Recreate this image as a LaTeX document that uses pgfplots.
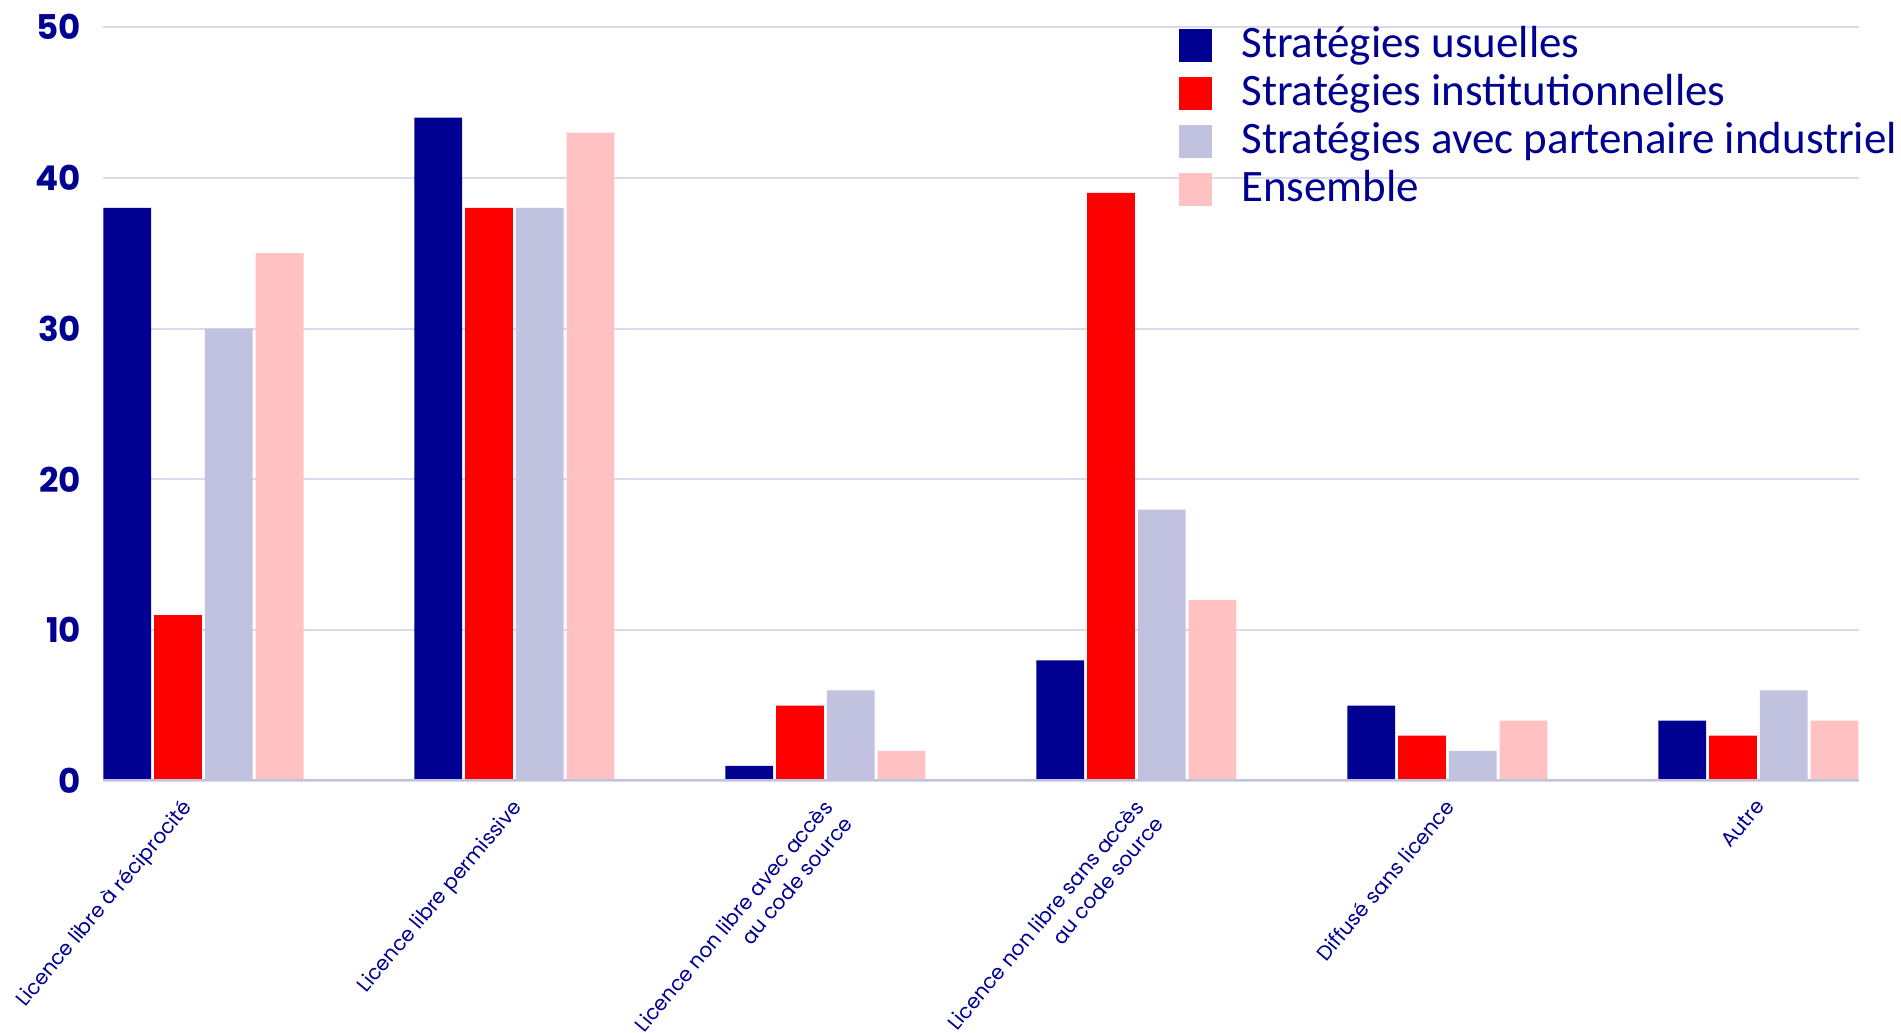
\documentclass[border=0pt]{standalone}
\usepackage{fontspec}
\setmainfont{Carlito}
\newfontfamily\pop{Poppins}
\usepackage{pgfplots}
\pgfplotsset{compat=1.18}

\definecolor{navy}{HTML}{000091}
\definecolor{rouge}{HTML}{FF0000}
\definecolor{lavande}{HTML}{C1C1E0}
\definecolor{rose}{HTML}{FFC1C1}
\definecolor{grille}{HTML}{DADAEC}

\pgfplotsset{
  sq/.style={legend image code/.code={\fill[##1] (0pt,-4.7pt) rectangle (9.4pt,4.7pt);}},
}

\begin{document}
\begin{tikzpicture}
\begin{axis}[
    scale only axis,
    width=499.6pt, height=214.5pt,
    ybar=0.85pt,
    bar width=13.6pt,
    xmin=-0.323, xmax=5.323,
    ymin=0, ymax=50,
    ytick={0,10,...,50},
    xtick={1,2,3,4,5},
    xticklabels={Licence libre permissive,
      {Licence non libre avec accès\\au code source},
      {Licence non libre sans accès\\au code source},
      Diffusé sans licence, Autre},
    extra x ticks={0},
    extra x tick labels={Licence libre à réciprocité},
    extra x tick style={xticklabel style={xshift=-3.5pt, yshift=4.2pt}},
    axis line style={draw=none},
    major tick length=0pt,
    ymajorgrids,
    grid style={grille, line width=0.6pt},
    /pgf/number format/assume math mode=true,
    yticklabel style={font=\pop\bfseries\fontsize{9.7}{10}\selectfont, text=navy,
      anchor=east, inner sep=0pt, xshift=-6pt},
    xticklabel style={font=\pop\fontsize{5.8}{7.2}\selectfont, text=navy,
      rotate=50, anchor=north east, align=right, inner sep=0pt,
      xshift=-4.2pt, yshift=-2.1pt},
    legend style={at={(0.6125,1.005)}, anchor=north west, draw=none, fill=none,
      font=\fontsize{12.8}{13}\selectfont, text=navy, inner sep=0pt,
      row sep=1.7pt, column sep=8.3pt,
      nodes={inner sep=0pt, text height=9.5pt, text depth=2.5pt, anchor=west}},
    legend cell align=left,
]
\addplot[fill=navy, draw=none, sq] coordinates {(0,38) (1,44) (2,1) (3,8) (4,5) (5,4)};
\addplot[fill=rouge, draw=none, sq] coordinates {(0,11) (1,38) (2,5) (3,39) (4,3) (5,3)};
\addplot[fill=lavande, draw=none, sq] coordinates {(0,30) (1,38) (2,6) (3,18) (4,2) (5,6)};
\addplot[fill=rose, draw=none, sq] coordinates {(0,35) (1,43) (2,2) (3,12) (4,4) (5,4)};
\legend{Stratégies usuelles, Stratégies institutionnelles,
  Stratégies avec partenaire industriel, Ensemble}
\draw[lavande, line width=1pt] (axis cs:-0.323,0) -- (axis cs:5.323,0);
\end{axis}
\pgfresetboundingbox
\path[use as bounding box] (-29.3pt,-71.7pt) rectangle (511.6pt,222.2pt);
\end{tikzpicture}
\end{document}
